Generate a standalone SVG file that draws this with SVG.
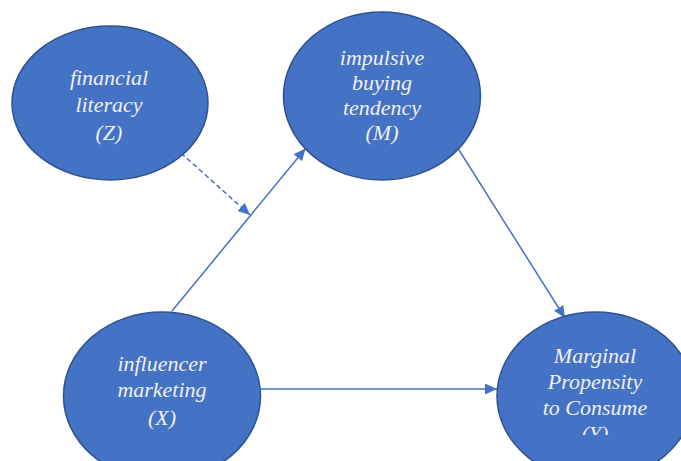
<svg xmlns="http://www.w3.org/2000/svg" width="681" height="461" viewBox="0 0 681 461">
<style>
.node{fill:#4472C4;stroke:#2F528F;stroke-width:1.5}
.lbl{font-family:'Liberation Serif','DejaVu Serif',serif;font-style:italic;font-size:22px;fill:#F0F0F0;text-anchor:middle}
.edge{stroke:#4472C4;stroke-width:1.5;fill:none}
.dash{stroke-dasharray:5 3}
</style>
<defs>
<marker id="ah" markerWidth="13" markerHeight="11" refX="12" refY="5.5" orient="auto" markerUnits="userSpaceOnUse">
<path d="M0,0 L12,5.5 L0,11 Z" fill="#4472C4"/>
</marker>
<clipPath id="clipY"><rect x="480" y="300" width="201" height="135"/></clipPath>
</defs>
<rect width="681" height="461" fill="#FFFFFF"/>
<g id="connectors">
<line class="edge" x1="172" y1="311" x2="305.5" y2="148.5" marker-end="url(#ah)"/>
<line class="edge dash" x1="181" y1="153" x2="250" y2="215" marker-end="url(#ah)"/>
<line class="edge" x1="459" y1="150" x2="565" y2="318" marker-end="url(#ah)"/>
<line class="edge" x1="261" y1="389" x2="497" y2="389" marker-end="url(#ah)"/>
</g>
<g id="nodeZ">
<ellipse class="node" cx="110" cy="103" rx="98" ry="77"/>
<text class="lbl" x="109" y="85" font-family="Liberation Serif">financial</text>
<text class="lbl" x="109" y="112" font-family="Liberation Serif">literacy</text>
<text class="lbl" x="109" y="140" font-family="Liberation Serif">(Z)</text>
</g>
<g id="nodeM">
<ellipse class="node" cx="382" cy="96" rx="98.5" ry="84"/>
<text class="lbl" x="382" y="65">impulsive</text>
<text class="lbl" x="382" y="90">buying</text>
<text class="lbl" x="382" y="115">tendency</text>
<text class="lbl" x="382" y="140">(M)</text>
</g>
<g id="nodeX">
<ellipse class="node" cx="162" cy="396" rx="98.5" ry="84"/>
<text class="lbl" x="162" y="371">influencer</text>
<text class="lbl" x="162" y="397">marketing</text>
<text class="lbl" x="162" y="425">(X)</text>
</g>
<g id="nodeY">
<ellipse class="node" cx="595.5" cy="396" rx="98.5" ry="84"/>
<g clip-path="url(#clipY)">
<text class="lbl" x="595" y="363">Marginal</text>
<text class="lbl" x="595" y="389">Propensity</text>
<text class="lbl" x="595" y="415">to Consume</text>
<text class="lbl" x="595" y="441">(Y)</text>
</g>
</g>
</svg>
